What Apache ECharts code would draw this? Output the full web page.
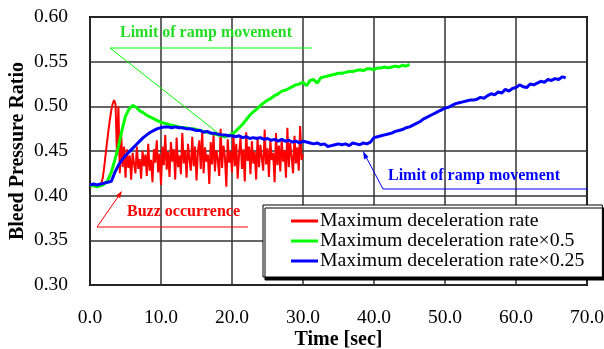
<!DOCTYPE html>
<html><head><meta charset="utf-8">
<script src="https://cdn.jsdelivr.net/npm/echarts@6/dist/echarts.min.js"></script>
<style>html,body{margin:0;padding:0;background:#fff}#c{width:604px;height:349px}</style>
</head><body><div id="c"></div>
<script>
// ---- data ----
var seriesNames = ['Maximum deceleration rate', 'Maximum deceleration rate\u00d70.5', 'Maximum deceleration rate\u00d70.25'];
var xTicks = [0, 10, 20, 30, 40, 50, 60, 70];
var yTicks = [0.30, 0.35, 0.40, 0.45, 0.50, 0.55, 0.60];
// sample interval (s) of each recorded trace
var redDt = 0.2, greenDt = 0.5, blueDt = 0.5;
var redValues = [
 0.410,0.410,0.411,0.410,0.410,0.411,0.411,0.412,0.414,0.420,
 0.432,0.446,0.460,0.473,0.485,0.496,0.503,0.507,0.502,0.445,
 0.500,0.425,0.468,0.432,0.455,
 0.420,0.452,0.431,0.445,0.418,0.448,0.436,0.425,0.455,0.430,
 0.441,0.419,0.450,0.433,0.446,0.422,0.458,0.428,0.440,0.415,
 0.452,0.437,0.462,0.426,0.447,0.412,0.455,0.434,0.468,0.429,
 0.449,0.421,0.460,0.438,0.452,0.418,0.465,0.432,0.445,0.424,
 0.470,0.436,0.451,0.420,0.458,0.441,0.428,0.466,0.433,0.455,
 0.417,0.449,0.462,0.430,0.472,0.425,0.454,0.438,0.446,0.413,
 0.460,0.435,0.468,0.427,0.451,0.440,0.422,0.475,0.431,0.456,
 0.444,0.410,0.463,0.437,0.450,0.426,0.469,0.433,0.458,0.419,
 0.447,0.465,0.430,0.452,0.416,0.471,0.439,0.455,0.424,0.461,
 0.436,0.449,0.418,0.466,0.432,0.457,0.442,0.428,0.474,0.435,
 0.453,0.421,0.462,0.440,0.448,0.415,0.470,0.434,0.456,0.427,
 0.464,0.438,0.451,0.420,0.476,0.432,0.459,0.443,0.425,0.467,
 0.436,0.454,0.428,0.478,0.440,0.446
];
var greenValues = [
 0.411,0.411,0.410,0.411,0.413,0.417,0.426,0.440,0.455,0.473,
 0.489,0.497,0.501,0.499,0.495,0.493,0.490,0.488,0.486,0.484,
 0.482,0.481,0.480,0.479,0.478,0.477,0.476,0.476,0.475,0.475,
 0.474,0.473,0.472,0.471,0.470,0.469,0.468,0.467,0.466,0.467,
 0.469,0.472,0.476,0.480,0.485,0.490,0.494,0.497,0.501,0.504,
 0.507,0.509,0.512,0.514,0.517,0.518,0.520,0.522,0.524,0.525,
 0.527,0.523,0.529,0.530,0.526,0.532,0.533,0.534,0.535,0.536,
 0.537,0.537,0.538,0.539,0.539,0.540,0.541,0.540,0.542,0.542,
 0.541,0.543,0.543,0.544,0.543,0.544,0.545,0.544,0.546,0.545,
 0.547
];
var blueValues = [
 0.412,0.413,0.412,0.413,0.414,0.415,0.416,0.426,0.434,0.440,
 0.445,0.449,0.453,0.457,0.461,0.465,0.468,0.471,0.473,0.475,
 0.476,0.477,0.477,0.476,0.477,0.476,0.476,0.475,0.475,0.474,
 0.473,0.473,0.471,0.472,0.470,0.470,0.469,0.468,0.468,0.467,
 0.467,0.466,0.467,0.465,0.466,0.464,0.465,0.464,0.465,0.463,
 0.464,0.462,0.463,0.461,0.463,0.461,0.462,0.460,0.461,0.459,
 0.461,0.460,0.459,0.458,0.459,0.457,0.458,0.455,0.456,0.457,
 0.458,0.457,0.458,0.456,0.459,0.458,0.457,0.459,0.458,0.460,
 0.465,0.466,0.467,0.468,0.469,0.470,0.472,0.473,0.474,0.476,
 0.477,0.479,0.481,0.483,0.486,0.488,0.490,0.492,0.494,0.496,
 0.498,0.499,0.501,0.503,0.504,0.505,0.506,0.507,0.507,0.508,
 0.510,0.509,0.512,0.514,0.513,0.516,0.515,0.519,0.517,0.520,
 0.521,0.524,0.522,0.521,0.525,0.524,0.526,0.528,0.527,0.530,
 0.529,0.531,0.530,0.533,0.532
];
var annoText = ['Limit of ramp movement', 'Limit of ramp movement', 'Buzz occurrence'];

// ---- build ----
function pairs(vals, dt){ return vals.map(function(v,i){ return [+(i*dt).toFixed(2), v]; }); }
var RED='#ff0000', GREEN='#00ff00', BLUE='#0000ff';
var serif = '"Liberation Serif","Times New Roman",serif';
var chart = echarts.init(document.getElementById('c'), null, {renderer:'canvas'});
chart.setOption({
  animation:false,
  backgroundColor:'#fff',
  textStyle:{fontFamily:serif},
  grid:{left:90, right:17, top:17, bottom:64, show:true, borderColor:'#000', borderWidth:2, backgroundColor:'transparent',
        containLabel:false, outerBoundsMode:'none'},
  xAxis:{type:'value', min:xTicks[0], max:xTicks[xTicks.length-1], interval:10,
    name:'Time [sec]', nameLocation:'middle', nameGap:45, nameMoveOverlap:false,
    nameTextStyle:{fontFamily:serif, fontWeight:'bold', fontSize:20, color:'#000'},
    axisLine:{show:false}, axisTick:{show:false},
    axisLabel:{margin:23, fontFamily:serif, fontSize:19.5, color:'#000', formatter:function(v){return v.toFixed(1);}},
    splitLine:{show:true, lineStyle:{color:'#333', width:1.5}}},
  yAxis:{type:'value', min:yTicks[0], max:yTicks[yTicks.length-1], interval:0.05,
    name:'Bleed Pressure Ratio', nameLocation:'middle', nameGap:62, nameMoveOverlap:false,
    nameTextStyle:{fontFamily:serif, fontWeight:'bold', fontSize:20, color:'#000'},
    axisLine:{show:false}, axisTick:{show:false},
    axisLabel:{margin:22, fontFamily:serif, fontSize:19.5, color:'#000', formatter:function(v){return v.toFixed(2);}},
    splitLine:{show:true, lineStyle:{color:'#333', width:1.5}}},
  legend:{orient:'vertical', left:263, top:205, itemGap:0, itemWidth:27, itemHeight:3, icon:'rect',
    padding:[6,18,6,28], backgroundColor:'#fff', borderColor:'#000', borderWidth:1,
    shadowColor:'#000', shadowOffsetX:2, shadowOffsetY:3, shadowBlur:0,
    textStyle:{fontFamily:serif, fontSize:19.8, lineHeight:19, height:19, color:'#000', padding:[0,0,0,-3]},
    data:seriesNames},
  series:[
    {name:seriesNames[0], type:'line', data:pairs(redValues, redDt), showSymbol:false, color:RED, lineStyle:{width:2, color:RED}, z:2},
    {name:seriesNames[1], type:'line', data:pairs(greenValues, greenDt), showSymbol:false, color:GREEN, lineStyle:{width:3, color:GREEN}, z:3},
    {name:seriesNames[2], type:'line', data:pairs(blueValues, blueDt), showSymbol:false, color:BLUE, lineStyle:{width:3, color:BLUE}, z:4}
  ],
  graphic:[
    {type:'text', left:120, top:25, z:100, style:{text:annoText[0], fill:'#22dd22', font:'bold 16px '+serif}},
    {type:'polyline', z:100, shape:{points:[[312,48],[110,48],[218,133]]}, style:{stroke:GREEN, lineWidth:1, fill:null}},
    {type:'text', left:388, top:168, z:100, style:{text:annoText[1], fill:BLUE, font:'bold 16px '+serif}},
    {type:'polyline', z:100, shape:{points:[[588,189],[383,189],[365,155]]}, style:{stroke:BLUE, lineWidth:1, fill:null}},
    {type:'polygon', z:100, shape:{points:[[363,151],[368.5,157],[364.1,159.4]]}, style:{fill:BLUE}},
    {type:'text', left:127, top:204, z:100, style:{text:annoText[2], fill:RED, font:'bold 16px '+serif}},
    {type:'polyline', z:100, shape:{points:[[248,227],[97,227],[120,194]]}, style:{stroke:RED, lineWidth:1, fill:null}},
    {type:'polygon', z:100, shape:{points:[[122,191],[120.1,198.2],[115.9,195.4]]}, style:{fill:RED}}
  ]
});
</script></body></html>
